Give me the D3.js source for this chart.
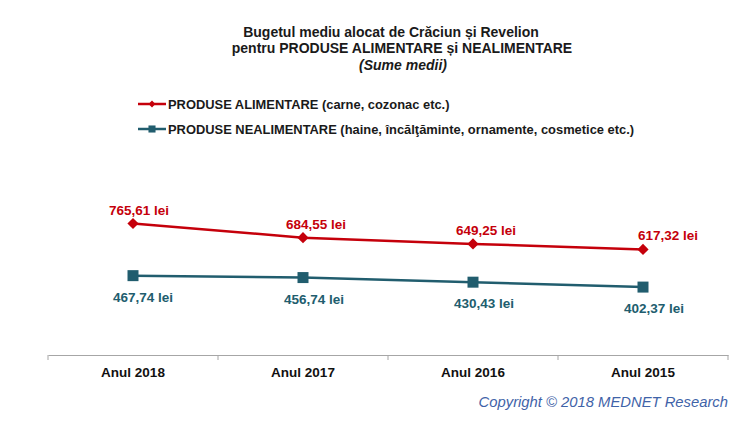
<!DOCTYPE html>
<html><head><meta charset="utf-8">
<script src="https://cdn.jsdelivr.net/npm/d3@7"></script>
<style>body{margin:0;background:#fff}svg{display:block;font-family:Arial,"Liberation Sans",sans-serif}</style>
</head><body><svg id="c" width="750" height="428"></svg>
<script>
const categories = ["Anul 2018","Anul 2017","Anul 2016","Anul 2015"];
const alimentare = [765.61, 684.55, 649.25, 617.32];
const nealimentare = [467.74, 456.74, 430.43, 402.37];
const seriesNames = ["PRODUSE ALIMENTARE (carne, cozonac etc.)","PRODUSE NEALIMENTARE (haine, încălţăminte, ornamente, cosmetice etc.)"];
const titleLines = ["Bugetul mediu alocat de Crăciun și Revelion","pentru PRODUSE ALIMENTARE  și NEALIMENTARE","(Sume medii)"];

const red = "#c5000b", teal = "#215d6e";
const svg = d3.select("#c");
const x = d3.scaleBand().domain(categories).range([48, 728]);
const y = d3.scaleLinear().domain([0, 1000]).range([357.5, 182.5]);
const fmt = v => d3.format(".2f")(v).replace(".", ",") + " lei";
const diamond = d3.symbolDiamond2 || d3.symbolDiamond;

// title
const t = svg.append("text").attr("text-anchor","middle").attr("font-weight","bold").attr("font-size",14).attr("fill","#1a1a1a");
t.append("tspan").attr("x",391).attr("y",37).text(titleLines[0]);
t.append("tspan").attr("x",402).attr("y",53).text(titleLines[1]);
t.append("tspan").attr("x",403).attr("y",70).attr("font-style","italic").text(titleLines[2]);

// legend
const leg = [[seriesNames[0], red, "diamond", 104],[seriesNames[1], teal, "square", 129]];
leg.forEach(([name,col,shape,ly])=>{
  svg.append("line").attr("x1",138).attr("x2",166).attr("y1",ly).attr("y2",ly).attr("stroke",col).attr("stroke-width",2.5);
  svg.append("path").attr("transform",`translate(152,${ly})`).attr("fill",col)
    .attr("d", d3.symbol().type(shape==="diamond"?diamond:d3.symbolSquare).size(shape==="diamond"?30:50)());
  svg.append("text").attr("x",168).attr("y",ly+4.5).attr("font-size",12.9).attr("font-weight","bold").attr("fill","#1a1a1a").text(name);
});

// axis
const ax = svg.append("g").attr("transform","translate(0,355)").call(d3.axisBottom(x).tickSize(0).tickPadding(12));
ax.select(".domain").attr("stroke","#a6a6a6");
ax.selectAll(".tick text").attr("font-size",13.5).attr("font-weight","bold").attr("fill","#111").attr("font-family","Arial,'Liberation Sans',sans-serif");
const bounds = [x.range()[0], ...categories.map(c=>x(c)+x.bandwidth())];
svg.selectAll(".tk").data(bounds).join("line").attr("x1",d=>d).attr("x2",d=>d).attr("y1",355).attr("y2",360).attr("stroke","#a6a6a6");

const cx = c => x(c) + x.bandwidth()/2;
const line = d3.line().x((d,i)=>cx(categories[i])).y(d=>y(d));

function drawSeries(vals, col, sym, size, above){
  svg.append("path").datum(vals).attr("d",line).attr("fill","none").attr("stroke",col).attr("stroke-width",2.5);
  svg.selectAll(null).data(vals).join("path")
    .attr("transform",(d,i)=>`translate(${cx(categories[i])},${y(d)})`)
    .attr("fill",col).attr("d",d3.symbol().type(sym).size(size)());
  svg.selectAll(null).data(vals).join("text")
    .attr("x",(d,i)=>cx(categories[i]) + (above ? (i===3?25:(i===0?6:13)) : (i===0?10:11)))
    .attr("y",d=>y(d) + (above ? -9 : 26))
    .attr("text-anchor","middle").attr("font-size",13.5).attr("font-weight","bold").attr("fill",col)
    .text(fmt);
}
drawSeries(alimentare, red, diamond, 80, true);
drawSeries(nealimentare, teal, d3.symbolSquare, 121, false);

svg.append("text").attr("x",728).attr("y",407).attr("text-anchor","end").attr("font-size",14.8).attr("font-style","italic").attr("fill","#3f63a8")
  .text("Copyright ©  2018 MEDNET Research");
</script></body></html>
